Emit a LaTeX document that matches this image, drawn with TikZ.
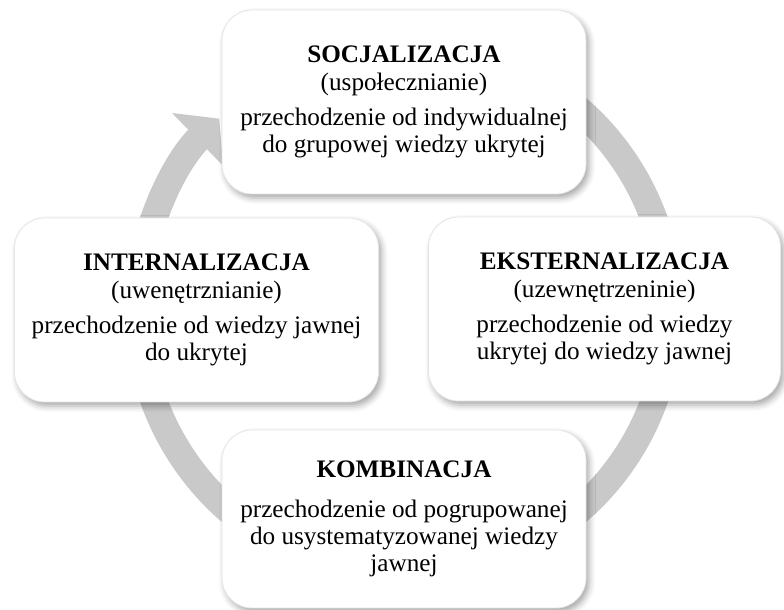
\documentclass[tikz,border=0pt]{standalone}
\usepackage{fontspec}
\setmainfont{Liberation Serif}
\usetikzlibrary{positioning, arrows.meta, shadows.blur}

\tikzset{
  etap/.style={draw=black!10, fill=white, rounded corners=15pt, align=center,
    minimum width=182pt, minimum height=92pt, inner sep=0pt,
    font=\fontsize{12.6}{13.6}\selectfont,
    blur shadow={shadow xshift=1.5pt, shadow yshift=-2pt, shadow blur radius=3pt, shadow opacity=35}},
  obieg/.style={draw=black!21, line width=13.5pt, -{Triangle[width=36pt,length=15pt]}}
}

\begin{document}
\begin{tikzpicture}[x=0.5pt, y=0.5pt]
  \useasboundingbox (0,0) rectangle (784,610);
  % ring %
  \coordinate (c) at (404,300);
  \draw[obieg] ([shift={(80:133pt)}]c) arc[start angle=80, end angle=-226, radius=133pt];

  % nodes %
  \node[etap] (soc) at (404,508) {\textbf{SOCJALIZACJA}\\(uspołecznianie)\\[4pt]przechodzenie od indywidualnej\\do grupowej wiedzy ukrytej};
  \node[etap, minimum width=176pt] (ekst) at (604.5,301) {\textbf{EKSTERNALIZACJA}\\(uzewnętrzeninie)\\[4pt]przechodzenie od wiedzy\\ukrytej do wiedzy jawnej};
  \node[etap] (inter) at (196.5,300) {\textbf{INTERNALIZACJA}\\(uwenętrznianie)\\[4pt]przechodzenie od wiedzy jawnej\\do ukrytej};
  \node[etap, minimum height=89pt] (komb) at (404,91) {\textbf{KOMBINACJA}\\[6pt]przechodzenie od pogrupowanej\\do usystematyzowanej wiedzy\\jawnej};
\end{tikzpicture}
\end{document}
